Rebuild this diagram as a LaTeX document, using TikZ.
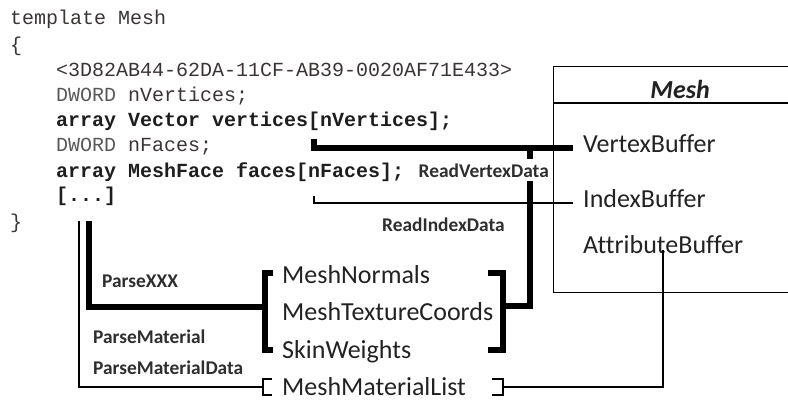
\documentclass[tikz,border=0pt]{standalone}
\usepackage{fontspec}
\setmainfont{Carlito}[Ligatures={NoCommon}]
\newfontfamily\codefont{Liberation Mono}

\definecolor{codeink}{HTML}{3A3434}
\definecolor{dwordink}{HTML}{5A5A5A}
\definecolor{boldcode}{HTML}{1E1E1E}
\definecolor{labelink}{HTML}{2E2E2E}
\definecolor{itemink}{HTML}{222222}

\begin{document}
\begin{tikzpicture}[x=1pt, y=-1pt,
  code/.style={anchor=base west, inner sep=0pt, text=codeink,
    font=\codefont\fontsize{20}{24}\selectfont},
  codebold/.style={code, text=boldcode,
    font=\codefont\bfseries\fontsize{20}{24}\selectfont},
  lbl/.style={anchor=base west, inner sep=0pt, text=labelink,
    font=\bfseries\fontsize{19.4}{22}\selectfont},
  item/.style={anchor=base west, inner sep=0pt, text=itemink,
    font=\fontsize{26}{30}\selectfont},
  heavy/.style={line width=5.5pt},
  light/.style={line width=2.2pt},
  boxline/.style={line width=1.4pt},
]
\useasboundingbox (0,0) rectangle (788,400);
\clip (0,0) rectangle (788,400);

% ---- template source ----
\node[code] (tpl)  at (10,24)  {template Mesh};
\node[code] (ob)   at (10,51)  {\{};
\node[code] (guid) at (56,76)  {<3D82AB44-62DA-11CF-AB39-0020AF71E433>};
\node[code] (dv)   at (56,101) {\textcolor{dwordink}{DWORD} nVertices;};
\node[codebold] (av) at (56,126) {array Vector vertices[nVertices];};
\node[code] (df)   at (56,151) {\textcolor{dwordink}{DWORD} nFaces;};
\node[codebold] (af) at (56,177) {array MeshFace faces[nFaces];};
\node[codebold] (etc) at (56,201) {[...]};
\node[code] (cb)   at (10,228) {\}};

% ---- Mesh class box ----
\node[draw, boxline, anchor=north west, minimum width=260pt, minimum height=226pt,
      inner sep=0pt] (meshbox) at (553,66) {};
\draw[line width=2.2pt] (553,103) -- (800,103);
\node[font=\bfseries\itshape\fontsize{26}{30}\selectfont, anchor=base, inner sep=0pt,
      text=itemink] (meshtitle) at (680,98) {Mesh};
\node[item] (vb) at (583,152) {VertexBuffer};
\node[item] (ib) at (583,207) {IndexBuffer};
\node[item] (ab) at (583,253) {AttributeBuffer};

% ---- sub-template items ----
\node[item] (mn)  at (282,283) {MeshNormals};
\node[item] (mtc) at (282,320) {MeshTextureCoords};
\node[item] (sw)  at (282,358) {SkinWeights};
\node[item] (mml) at (282,395) {MeshMaterialList};

% ---- connector points ----
\coordinate (vtop)   at (314,139);
\coordinate (vturn)  at (314,148);
\coordinate (vend)   at (573,148);
\coordinate (vdrop)  at (530,148);
\coordinate (vlow)   at (530,306);
\coordinate (itop)   at (314,196);
\coordinate (iturn)  at (314,203);
\coordinate (iend)   at (573,203);
\coordinate (ptop)   at (89,221);
\coordinate (pturn)  at (89,307);
\coordinate (mtop)   at (79,221);
\coordinate (mturn)  at (79,387);
\coordinate (aturn)  at (663,387);
\coordinate (aend)   at (663,250);

% group brackets
\coordinate (gl1) at (273,273); \coordinate (gl2) at (265,273);
\coordinate (gl3) at (265,350); \coordinate (gl4) at (273,350);
\coordinate (glm) at (265,307);
\coordinate (gr1) at (488,273); \coordinate (gr2) at (503,273);
\coordinate (gr3) at (503,350); \coordinate (gr4) at (488,350);
\coordinate (grm) at (503,306);
% material list brackets
\coordinate (ml1) at (272,379); \coordinate (ml2) at (263,379);
\coordinate (ml3) at (263,395); \coordinate (ml4) at (272,395);
\coordinate (mlm) at (263,387);
\coordinate (mr1) at (492,379); \coordinate (mr2) at (503,379);
\coordinate (mr3) at (503,395); \coordinate (mr4) at (492,395);
\coordinate (mrm) at (503,387);

% vertex data
\draw[heavy] (vtop) -- (vturn) -- (vend);
\draw[heavy] (vdrop) -- (vlow) -- (grm);
% index data
\draw[light] (itop) -- (iturn) -- (iend);
% ParseXXX
\draw[heavy] (ptop) -- (pturn) -- (glm);
\draw[heavy] (gl1) -- (gl2) -- (gl3) -- (gl4);
\draw[heavy] (gr1) -- (gr2) -- (gr3) -- (gr4);
% material list
\draw[light] (mtop) -- (mturn) -- (mlm);
\draw[light] (ml1) -- (ml2) -- (ml3) -- (ml4);
\draw[light] (mr1) -- (mr2) -- (mr3) -- (mr4);
\draw[light] (mrm) -- (aturn) -- (aend);

% ---- operation labels ----
\node[lbl, fill=white, inner xsep=0.5pt, inner ysep=4pt] (rvd) at (418,177) {ReadVertexData};
\node[lbl] (rid) at (382,231) {ReadIndexData};
\node[lbl] (pxx) at (102,287) {ParseXXX};
\node[lbl] (pm)  at (93,343)  {ParseMaterial};
\node[lbl] (pmd) at (93,374)  {ParseMaterialData};
\end{tikzpicture}
\end{document}
